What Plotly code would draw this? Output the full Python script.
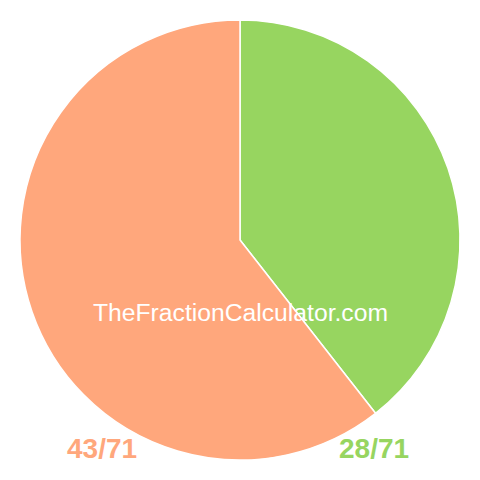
import plotly.graph_objects as go

labels = ["28/71", "43/71"]
values = [28, 43]
colors = ["#97D560", "#FFA77C"]

W = 480
fig = go.Figure(go.Pie(
    labels=labels, values=values, sort=False, direction="clockwise", rotation=0,
    marker=dict(colors=colors, line=dict(color="white", width=1.5)),
    textinfo="none", hoverinfo="none", showlegend=False,
    domain=dict(x=[20/W, 460/W], y=[20/W, 460/W]),
))

fig.add_annotation(x=240/W, y=1-312/W, xref="paper", yref="paper", text="TheFractionCalculator.com",
                   xanchor="center", yanchor="middle",
                   showarrow=False, font=dict(family="Liberation Sans, Arial", size=24.7, color="white"))
fig.add_annotation(x=102/W, y=1-448/W, xref="paper", yref="paper", text="<b>" + labels[1] + "</b>",
                   xanchor="center", yanchor="middle",
                   showarrow=False, font=dict(family="Liberation Sans, Arial", size=28, color=colors[1]))
fig.add_annotation(x=374/W, y=1-448/W, xref="paper", yref="paper", text="<b>" + labels[0] + "</b>",
                   xanchor="center", yanchor="middle",
                   showarrow=False, font=dict(family="Liberation Sans, Arial", size=28, color=colors[0]))

fig.update_layout(width=480, height=480, margin=dict(l=0, r=0, t=0, b=0),
                  paper_bgcolor="white", plot_bgcolor="white")
fig.write_html("out.html", config={"displayModeBar": False},
               post_script="document.body.style.margin='0';")
